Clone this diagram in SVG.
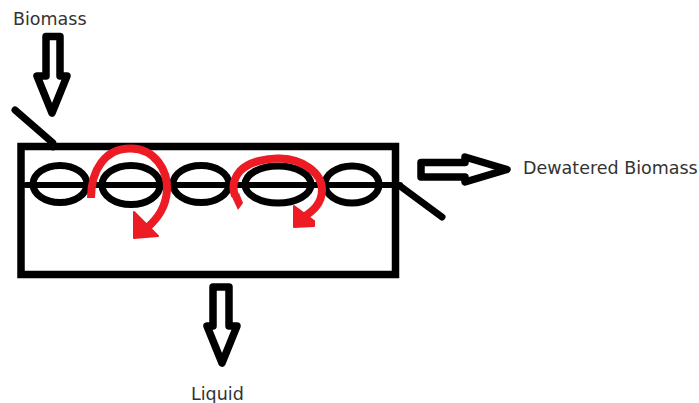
<svg xmlns="http://www.w3.org/2000/svg" width="699" height="403" viewBox="0 0 699 403">
<style>
.k{fill:none;stroke:#000;stroke-linecap:round;stroke-linejoin:round}
.e{fill:none;stroke:#000;stroke-width:7}
.a{fill:#fff;stroke:#000;stroke-width:7.5;stroke-linejoin:round}
.r{fill:none;stroke:#ed1c24;stroke-width:8}
.h{fill:#ed1c24;stroke:#ed1c24;stroke-width:2;stroke-linejoin:round}
.t{font-family:"DejaVu Sans",sans-serif;font-size:17.500px;fill:#333}
</style>
<rect width="699" height="403" fill="#fff"/>
<g id="connectors">
<path class="k" stroke-width="7" d="M15 110L53 143V147"/>
<path class="k" stroke-width="6" d="M26 185H400"/>
<path class="k" stroke-width="7" d="M400 186L442 217"/>
<path class="a" d="M46 36.500H60V76H67L52 113L37 76H46Z"/>
<path class="a" d="M421 162.500H465V157L507 169.500L465 182V177H421Z"/>
<path class="a" d="M213 287H229V326H237L222 363L207 326H213Z"/>
</g>
<g id="vessel"><rect x="21" y="146.500" width="374.500" height="128" fill="none" stroke="#000" stroke-width="7.500"/></g>
<g id="screw">
<ellipse class="e" cx="60" cy="184" rx="27" ry="18.500"/>
<ellipse class="e" cx="131" cy="185" rx="29" ry="19.500"/>
<ellipse class="e" cx="201" cy="184" rx="28" ry="18.500"/>
<ellipse class="e" cx="278" cy="184.500" rx="33" ry="18.500"/>
<ellipse class="e" cx="352" cy="184.500" rx="27" ry="18.500"/>
</g>
<g id="rotation-1">
<path class="r" d="M91 198C91 170 105 148 131 148.500C155 149 168 170 167 190C166 207 158 218 147 228"/>
<path class="h" d="M134 212L158 236L134 238Z"/>
</g>
<g id="rotation-2">
<path class="r" d="M235 196C232 187 234 178 240 171C250 161 268 158 280 158.500C302 159 322 172 322 190C322 204 312 212 302 218"/>
<path fill="#ed1c24" d="M231 195L239 193L243 203L238 210Z"/>
<path class="h" d="M294 206L314 221V226L294 227Z"/>
</g>
<g id="labels">
<text class="t" x="13" y="25">Biomass</text>
<text class="t" x="523" y="174">Dewatered Biomass</text>
<text class="t" x="191" y="400">Liquid</text>
</g>
</svg>
